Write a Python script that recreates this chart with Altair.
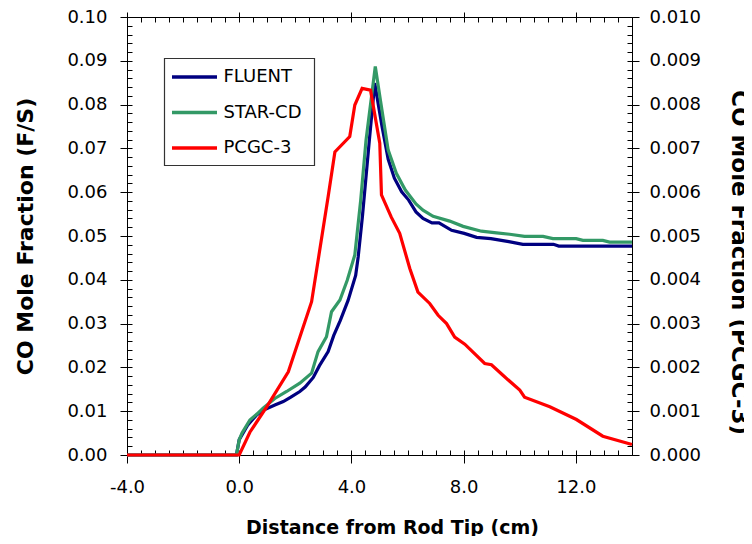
import altair as alt
import pandas as pd

# ---------------- data ----------------
fluent_x = [-4.0, -0.1, 0.0, 0.3, 0.6, 0.85, 1.27, 1.57, 1.84, 2.16, 2.35, 2.64, 2.86, 3.17,
            3.37, 3.6, 3.88, 4.15, 4.24, 4.39, 4.64, 4.83, 5.09, 5.31, 5.53, 5.79, 6.04,
            6.3, 6.55, 6.87, 7.12, 7.57, 8.02, 8.46, 8.97, 9.61, 10.11, 11.2, 11.39, 14.0]
fluent_y = [0.0, 0.0, 0.0035, 0.0068, 0.009, 0.0102, 0.0114, 0.0122, 0.0132, 0.0145, 0.0155,
            0.0177, 0.0204, 0.0236, 0.0273, 0.0307, 0.0353, 0.041, 0.0452, 0.0544, 0.072,
            0.0849, 0.075, 0.0675, 0.0632, 0.0601, 0.0582, 0.0555, 0.054, 0.053, 0.053,
            0.0513, 0.0506, 0.0497, 0.0494, 0.0487, 0.0481, 0.0481, 0.0477, 0.0477]

starcd_x = [-4.0, -0.1, 0.0, 0.1, 0.38, 0.64, 0.85, 1.27, 1.69, 2.16, 2.58, 2.81, 3.11, 3.29,
            3.59, 3.85, 4.12, 4.33, 4.52, 4.85, 5.03, 5.31, 5.6, 5.92, 6.3, 6.55, 6.91, 7.5,
            7.98, 8.63, 9.17, 9.64, 10.17, 10.83, 11.18, 12.01, 12.25, 12.96, 13.2, 14.0]
starcd_y = [0.0, 0.0, 0.0035, 0.005, 0.008, 0.0094, 0.0107, 0.0129, 0.0145, 0.0164, 0.0187,
            0.0236, 0.027, 0.0327, 0.0354, 0.0399, 0.0457, 0.0582, 0.0719, 0.0887, 0.0811,
            0.0696, 0.0643, 0.0605, 0.0573, 0.0559, 0.0545, 0.0534, 0.0522, 0.0511, 0.0507,
            0.0504, 0.0499, 0.0499, 0.0494, 0.0494, 0.049, 0.049, 0.0486, 0.0486]

pcgc_x = [-4.0, 0.0, 0.38, 0.98, 1.75, 2.58, 3.17, 3.41, 3.94, 4.12, 4.38, 4.68, 5.01, 5.07,
          5.42, 5.72, 6.08, 6.37, 6.79, 7.09, 7.39, 7.68, 8.04, 8.75, 8.99, 9.4, 10.0, 10.17,
          11.07, 12.02, 12.96, 14.0]
pcgc_y = [0.0, 0.0, 0.00052, 0.0011, 0.0019, 0.0035, 0.0059, 0.00692, 0.00727, 0.00799,
          0.00837, 0.00833, 0.00712, 0.00594, 0.00543, 0.00506, 0.00426, 0.00372, 0.00346,
          0.00319, 0.003, 0.00269, 0.00253, 0.00209, 0.00206, 0.00182, 0.00148, 0.00132,
          0.0011, 0.00081, 0.00043, 0.00024]

series_names = ["FLUENT", "STAR-CD", "PCGC-3"]
series_colors = ["#000080", "#339966", "#FF0000"]
series_rows = [0, 1, 2]

x_major = [-4, 0, 4, 8, 12]
x_minor = [-4 + 0.5 * i for i in range(37)]
yl_major = [round(0.01 * i, 2) for i in range(11)]
yl_minor = [round(0.002 * i, 3) for i in range(51)]
yr_major = [round(0.001 * i, 3) for i in range(11)]

# ---------------- layout ----------------
W, H = 505, 438
FONT = "DejaVu Sans"
LW = 3.2

df_f = pd.DataFrame({"x": fluent_x, "y": fluent_y})
df_s = pd.DataFrame({"x": starcd_x, "y": starcd_y})
df_p = pd.DataFrame({"x": pcgc_x, "y": pcgc_y})
legend_df = pd.DataFrame({"series": series_names, "color": series_colors, "row": series_rows})

xs = alt.Scale(domain=[-4, 14], nice=False, zero=False)
yls = alt.Scale(domain=[0, 0.1], nice=False, zero=False)
yrs = alt.Scale(domain=[0, 0.01], nice=False, zero=False)


def tick_axis(orient, values, size, offset=0, domain=False):
    return alt.Axis(orient=orient, values=values, tickSize=size, offset=offset,
                    labels=False, domain=domain, title=None, grid=False)


# invisible layers carrying extra tick axes (inside minor ticks, border)
invA = alt.Chart(df_f).mark_line(strokeOpacity=0).encode(
    x=alt.X("x:Q", scale=xs, axis=tick_axis("top", x_minor, 5, offset=-H)),
    y=alt.Y("y:Q", scale=yls, axis=tick_axis("right", yl_minor, 5, offset=-W)),
)
invB = alt.Chart(df_f).mark_line(strokeOpacity=0).encode(
    x=alt.X("x:Q", scale=xs, axis=tick_axis("bottom", x_minor, 5, offset=-H, domain=True)),
    y=alt.Y("y:Q", scale=yls, axis=tick_axis("left", yl_minor, 5, offset=-W)),
)
invC = alt.Chart(df_f).mark_line(strokeOpacity=0).encode(
    x=alt.X("x:Q", scale=xs, axis=tick_axis("top", x_major, 5)),
    y=alt.Y("y:Q", scale=yls, axis=None),
)

fluent = alt.Chart(df_f).mark_line(color=series_colors[0], strokeWidth=LW).encode(
    x=alt.X("x:Q", scale=xs, axis=alt.Axis(
        orient="bottom", values=x_major, format=".1f", tickSize=8, labelPadding=15,
        labelExpr="replace(datum.label, '\u2212', '-')",
        labelFlush=False, labelOverlap=False, title="Distance from Rod Tip (cm)",
        titleFontSize=19, titleX=265, titleY=78, titleBaseline="alphabetic",
        titleAlign="center", titleAngle=0)),
    y=alt.Y("y:Q", scale=yls, axis=alt.Axis(
        orient="left", values=yl_major, format=".2f", tickSize=7, labelPadding=13,
        labelFlush=False, labelOverlap=False, title="CO Mole Fraction (F/S)",
        titleFontSize=22, titleX=-95, titleY=219, titleAngle=270,
        titleBaseline="alphabetic", titleAlign="center")),
)
starcd = alt.Chart(df_s).mark_line(color=series_colors[1], strokeWidth=LW).encode(
    x=alt.X("x:Q", scale=xs, axis=None),
    y=alt.Y("y:Q", scale=yls, axis=None),
)
pcgc = alt.Chart(df_p).mark_line(color=series_colors[2], strokeWidth=LW).encode(
    x=alt.X("x:Q", scale=xs, axis=None),
    y=alt.Y("y:Q", scale=yrs, axis=alt.Axis(
        orient="right", values=yr_major, format=".3f", tickSize=7, labelPadding=10,
        labelFlush=False, labelOverlap=False, title="CO Mole Fraction (PCGC-3)",
        titleFontSize=23, titleX=99, titleY=245, titleAngle=90,
        titleBaseline="alphabetic", titleAlign="center")),
)

# legend
row_y = alt.Y("row:Q", scale=alt.Scale(domain=[0, 2], range=[60, 131], nice=False, zero=False),
              axis=None)
legend_box = alt.Chart(pd.DataFrame({"k": [0]})).mark_rect(
    fill="white", stroke="#333333", strokeWidth=1.2).encode(
    x=alt.value(37.5), x2=alt.value(187.5), y=alt.value(41.5), y2=alt.value(148.5))
legend_lines = alt.Chart(legend_df).mark_rule(strokeWidth=3.6).encode(
    x=alt.value(45), x2=alt.value(90), y=row_y,
    color=alt.Color("color:N", scale=None, legend=None))
legend_text = alt.Chart(legend_df).mark_text(
    align="left", baseline="middle", font=FONT, fontSize=18, color="black").encode(
    x=alt.value(96.5), y=row_y, text="series:N")

chart = alt.layer(
    invA, invB, invC, fluent, starcd, pcgc, legend_box, legend_lines, legend_text
).resolve_scale(
    y="independent"
).resolve_axis(
    x="independent", y="independent"
).properties(
    width=W, height=H,
    autosize=alt.AutoSizeParams(type="none"),
    padding={"left": 119, "top": 9, "right": 112, "bottom": 81},
).configure_axis(
    grid=False, labelFont=FONT, labelFontSize=18, labelColor="black",
    titleFont=FONT, titleFontWeight="bold", titleColor="black",
    domainColor="black", tickColor="black", domainWidth=1, tickWidth=1,
).configure_view(stroke=None)

chart.save("out.html", embed_options={"renderer": "svg", "actions": False})
